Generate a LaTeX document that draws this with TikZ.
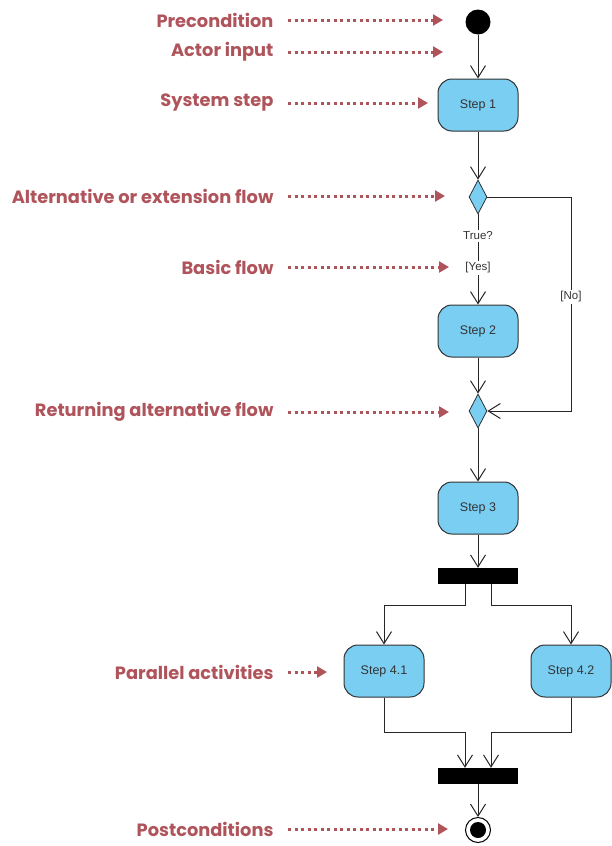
\documentclass[tikz,border=0pt]{standalone}
\usepackage{fontspec}
\setmainfont{Liberation Sans}
\newfontfamily\notefont{Poppins}
\usetikzlibrary{arrows.meta,shapes.geometric}
\definecolor{stepblue}{RGB}{122,206,242}
\definecolor{notered}{RGB}{176,84,92}
\definecolor{edgegray}{RGB}{50,50,50}

\begin{document}
\begin{tikzpicture}[x=1pt,y=-1pt,
  action/.style={draw=edgegray, fill=stepblue, rounded corners=14pt, line width=1pt,
    minimum width=80pt, minimum height=52pt, inner sep=0pt, text=black!80,
    font=\fontsize{12.5}{14}\selectfont},
  decision/.style={diamond, draw=edgegray, fill=stepblue, line width=0.8pt,
    minimum width=18pt, minimum height=34pt, inner sep=0pt},
  syncbar/.style={fill=black, minimum width=80pt, minimum height=16pt, inner sep=0pt},
  flow/.style={draw=black!85, line width=1pt, -{Straight Barb[length=12pt,width=15pt]}},
  guard/.style={fill=white, inner sep=1.5pt, font=\fontsize{11.5}{13}\selectfont, text=black!80},
  note/.style={anchor=east, text=notered, font=\notefont\bfseries\fontsize{17.8}{21}\selectfont},
  pointer/.style={draw=notered, line width=3pt, dash pattern=on 3pt off 3.5pt,
    -{Triangle[length=10pt,width=11pt]}}
]
\useasboundingbox (0,0) rectangle (611,846);

% activity nodes
\node[circle, fill=black, minimum size=25pt, inner sep=0pt] (start) at (478,22) {};
\node[action] (s1) at (478,105) {Step 1};
\node[decision] (d1) at (478,197) {};
\node[action] (s2) at (478,331) {Step 2};
\node[decision] (d2) at (478,411) {};
\node[action] (s3) at (478,508) {Step 3};
\node[syncbar] (fork) at (478,576) {};
\node[action] (s41) at (384,671) {Step 4.1};
\node[action] (s42) at (571,671) {Step 4.2};
\node[syncbar] (join) at (478,776) {};
\node[circle, draw=black, line width=1pt, fill=white, minimum size=25pt, inner sep=0pt] (final) at (478,830) {};
\node[circle, fill=black, minimum size=16pt, inner sep=0pt] (finaldot) at (final) {};

% control flows
\draw[flow] (start) -- (s1);
\draw[flow] (s1) -- (d1);
\draw[flow] (d1) -- (s2);
\node[guard] (cond) at (478,236) {True?};
\node[guard] (yes) at (478,268) {[Yes]};
\draw[flow] (d1.east) -- ++(84,0) |- (d2.east);
\node[guard] (no) at (571,297) {[No]};
\draw[flow] (s2) -- (d2);
\draw[flow] (d2) -- (s3);
\draw[flow] (s3) -- (fork);
\draw[flow] ([xshift=-13pt]fork.south) -- ++(0,21) -| (s41.north);
\draw[flow] ([xshift=13pt]fork.south) -- ++(0,21) -| (s42.north);
\draw[flow] (s41.south) -- ++(0,35) -| ([xshift=-13pt]join.north);
\draw[flow] (s42.south) -- ++(0,35) -| ([xshift=13pt]join.north);
\draw[flow] (join) -- (final);

% annotations
\node[note] (n1) at (277,20) {Precondition};
\node[note] (n2) at (277,52) {Actor input};
\node[note] (n3) at (277,103) {System step};
\node[note] (n4) at (277,196) {Alternative or extension flow};
\node[note] (n5) at (277,267) {Basic flow};
\node[note] (n6) at (277,412) {Returning alternative flow};
\node[note] (n7) at (277,672) {Parallel activities};
\node[note] (n8) at (277,829) {Postconditions};

\coordinate (p1) at (443,20);
\coordinate (p2) at (443,52);
\coordinate (p3) at (428,103);
\coordinate (p4) at (445,196);
\coordinate (p5) at (449,267);
\coordinate (p6) at (449,412);
\coordinate (p7) at (327,672);
\coordinate (p8) at (448,829);

\foreach \i in {1,...,8} {
  \draw[pointer] ([xshift=11pt]n\i.east) -- (p\i);
}
\end{tikzpicture}
\end{document}
